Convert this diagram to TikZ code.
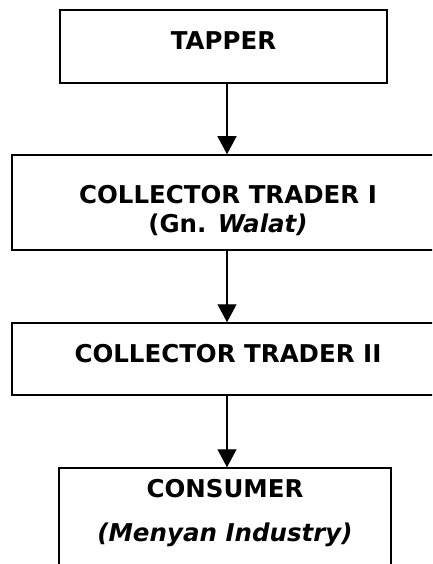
\documentclass[tikz,border=0pt]{standalone}
\usepackage{fontspec}
\setmainfont{DejaVu Sans}
\usetikzlibrary{arrows.meta}

\tikzstyle{stage}=[draw,line width=1.5pt,inner sep=0pt,align=center,font=\fontsize{24.5}{26}\selectfont\bfseries]
\tikzstyle{flow edge} = [draw,line width=1.3pt,-{Triangle[width=19pt,length=18pt]}]

\begin{document}
\begin{tikzpicture}[x=1pt,y=1pt]
			\clip (0,0) rectangle (432,-564);
			\fill[white] (0,0) rectangle (432,-564);
			% The chain of traders, top to bottom
			\node[stage,minimum width=327pt,minimum height=73pt,text height=18pt,text depth=11pt] (tapper) at (223.5,-46.5) {TAPPER};
			\node[stage,minimum width=432pt,minimum height=95pt,text height=63pt,text depth=4pt] (trader1) at (228,-202.5) {COLLECTOR TRADER I\\[3pt](Gn. \textit{Walat)}};
			\node[stage,minimum width=432pt,minimum height=72pt,text height=18pt,text depth=12pt] (trader2) at (228,-359) {COLLECTOR TRADER II};
			\node[stage,minimum width=332pt,minimum height=107pt,text height=67pt,text depth=28pt] (consumer) at (225,-521.5) {CONSUMER\\[18pt]\textit{(Menyan Industry)}};
			% Connect the stages
			\foreach \source/ \dest in {tapper/trader1,trader1/trader2,trader2/consumer}
				\path[flow edge] (\source.south -| 227,0) to (\dest.north -| 227,0);
		\end{tikzpicture}
\end{document}
